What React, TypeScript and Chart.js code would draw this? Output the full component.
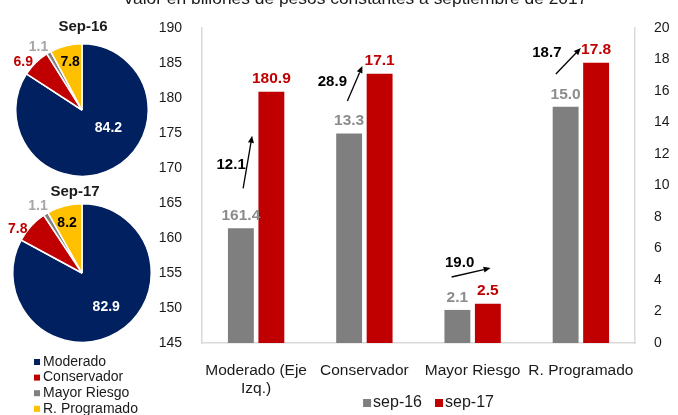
import React, { useEffect, useRef } from 'react';
import { Chart, registerables } from 'chart.js';
Chart.register(...registerables);

const FONT = "'Liberation Sans', Arial, sans-serif";

// ---------- data ----------
const titleText = 'Valor en billones de pesos constantes a septiembre de 2017';
const categories: (string | string[])[] = [['Moderado (Eje', 'Izq.)'], 'Conservador', 'Mayor Riesgo', 'R. Programado'];
const seriesNames = ['sep-16', 'sep-17'];
const sep16Values = [161.4, 13.3, 2.1, 15.0];
const sep17Values = [180.9, 17.1, 2.5, 17.8];
const valueAxis = ['yLeft', 'yRight', 'yRight', 'yRight'];
const growthValues = [12.1, 28.9, 19.0, 18.7];
const leftAxisRange = [145, 190, 5];
const rightAxisRange = [0, 20, 2];

const pieCategories = ['Moderado', 'Conservador', 'Mayor Riesgo', 'R. Programado'];
const pieTitles = ['Sep-16', 'Sep-17'];
const pieSep16 = [84.2, 6.9, 1.1, 7.8];
const pieSep17 = [82.9, 7.8, 1.1, 8.2];

// ---------- styles / placement ----------
const seriesColors = ['#7f7f7f', '#c00000'];
const seriesLabelColors = ['#8c8c8c', '#c00000'];
const pieColors = ['#002060', '#c00000', '#808080', '#ffc000'];
const pieLabelColors = ['#ffffff', '#c00000', '#a6a6a6', '#000000'];
const tickColor = '#1a1a1a';
const axisLineColor = '#d9d9d9';

const growthArrowPlacement = [
  { x0: -13, v0: 167.1, x1: -4, v1: 174.6, lx: -25, lv: 170.4 },
  { x0: -17, v0: 15.37, x1: -2, v1: 17.59, lx: -32, lv: 16.57 },
  { x0: -21, v0: 4.19, x1: 18, v1: 4.76, lx: -13, lv: 5.08 },
  { x0: -25, v0: 17.08, x1: 0, v1: 18.73, lx: -34, lv: 18.41 },
];

const pieLabelPlacement = [
  [{ a: 33.7, d: 0.48 }, { a: 219, d: 1.14 }, { a: 235.5, d: 1.16 }, { a: 256, d: 0.74 }],
  [{ a: 55, d: 0.61 }, { a: 214, d: 1.12 }, { a: 236.8, d: 1.16 }, { a: 253.3, d: 0.75 }],
];
const pieTitleOffset = [{ dx: 1, dy: 17 }, { dx: -7, dy: 12 }];

function pick(vals: number[], axis: string) {
  return vals.map((v, i) => (valueAxis[i] === axis ? v : null));
}

function drawArrow(ctx: CanvasRenderingContext2D, x0: number, y0: number, x1: number, y1: number) {
  const ang = Math.atan2(y1 - y0, x1 - x0);
  const head = 7;
  const hw = 3;
  const bx = x1 - head * Math.cos(ang);
  const by = y1 - head * Math.sin(ang);
  ctx.save();
  ctx.strokeStyle = '#000';
  ctx.fillStyle = '#000';
  ctx.lineWidth = 1.3;
  ctx.beginPath();
  ctx.moveTo(x0, y0);
  ctx.lineTo(bx, by);
  ctx.stroke();
  ctx.beginPath();
  ctx.moveTo(x1, y1);
  ctx.lineTo(bx + hw * Math.sin(ang), by - hw * Math.cos(ang));
  ctx.lineTo(bx - hw * Math.sin(ang), by + hw * Math.cos(ang));
  ctx.closePath();
  ctx.fill();
  ctx.restore();
}

const barPlugin = {
  id: 'barExtras',
  afterDatasetsDraw(chart: any) {
    const ctx: CanvasRenderingContext2D = chart.ctx;
    ctx.save();
    chart.data.datasets.forEach((ds: any, di: number) => {
      const meta = chart.getDatasetMeta(di);
      ds.data.forEach((v: number | null, i: number) => {
        if (v === null) return;
        const el = meta.data[i];
        ctx.font = `bold 15.5px ${FONT}`;
        ctx.fillStyle = seriesLabelColors[ds.seriesIndex];
        ctx.textAlign = 'center';
        ctx.textBaseline = 'middle';
        ctx.fillText(v.toFixed(1), el.x, el.y - 12.5);
      });
    });
    const xs = chart.scales.x;
    growthValues.forEach((g, i) => {
      const p = growthArrowPlacement[i];
      const ys = chart.scales[valueAxis[i]];
      const cx = xs.getPixelForValue(i);
      drawArrow(ctx, cx + p.x0, ys.getPixelForValue(p.v0), cx + p.x1, ys.getPixelForValue(p.v1));
      ctx.font = `bold 15px ${FONT}`;
      ctx.fillStyle = '#000';
      ctx.textAlign = 'center';
      ctx.textBaseline = 'middle';
      ctx.fillText(g.toFixed(1), cx + p.lx, ys.getPixelForValue(p.lv));
    });
    ctx.restore();
  },
  afterDraw(chart: any) {
    const ctx: CanvasRenderingContext2D = chart.ctx;
    const ca = chart.chartArea;
    ctx.save();
    ctx.font = `17.4px ${FONT}`;
    ctx.fillStyle = '#1a1a1a';
    ctx.textAlign = 'center';
    ctx.textBaseline = 'alphabetic';
    ctx.fillText(titleText, 355, 3.5);
    ctx.font = `16px ${FONT}`;
    const box = 8, gap = 2, itemGap = 13;
    const widths = seriesNames.map((n) => box + gap + ctx.measureText(n).width);
    const total = widths.reduce((a, b) => a + b, 0) + itemGap * (seriesNames.length - 1);
    let x = (ca.left + ca.right) / 2 + 10 - total / 2;
    const y = 403;
    seriesNames.forEach((n, i) => {
      ctx.fillStyle = seriesColors[i];
      ctx.fillRect(x, y - box / 2, box, box);
      ctx.fillStyle = tickColor;
      ctx.textAlign = 'left';
      ctx.textBaseline = 'middle';
      ctx.fillText(n, x + box + gap, y);
      x += widths[i] + itemGap;
    });
    ctx.restore();
  },
};

function makePiePlugin(idx: number, withLegend: boolean) {
  return {
    id: 'pieExtras' + idx,
    afterDatasetsDraw(chart: any) {
      const ctx: CanvasRenderingContext2D = chart.ctx;
      const meta = chart.getDatasetMeta(0);
      const data = chart.data.datasets[0].data as number[];
      ctx.save();
      meta.data.forEach((el: any, i: number) => {
        const pl = pieLabelPlacement[idx][i];
        const a = (pl.a * Math.PI) / 180;
        const r = el.outerRadius * pl.d;
        ctx.font = `bold 14px ${FONT}`;
        ctx.fillStyle = pieLabelColors[i];
        ctx.textAlign = 'center';
        ctx.textBaseline = 'middle';
        ctx.fillText(data[i].toFixed(1), el.x + r * Math.cos(a), el.y + r * Math.sin(a));
      });
      const el0 = meta.data[0];
      const off = pieTitleOffset[idx];
      ctx.font = `bold 15px ${FONT}`;
      ctx.fillStyle = '#1a1a1a';
      ctx.textAlign = 'center';
      ctx.textBaseline = 'middle';
      ctx.fillText(pieTitles[idx], el0.x + off.dx, el0.y - el0.outerRadius - off.dy);
      if (withLegend) {
        ctx.font = `14px ${FONT}`;
        pieCategories.forEach((c, i) => {
          const y = 182 + i * 15.6;
          ctx.fillStyle = pieColors[i];
          ctx.fillRect(34, y - 3, 6, 6);
          ctx.fillStyle = tickColor;
          ctx.textAlign = 'left';
          ctx.fillText(c, 43, y);
        });
      }
      ctx.restore();
    },
  };
}

export default function App() {
  const barRef = useRef<HTMLCanvasElement>(null);
  const pieARef = useRef<HTMLCanvasElement>(null);
  const pieBRef = useRef<HTMLCanvasElement>(null);

  useEffect(() => {
    const barCommon = { categoryPercentage: 0.563, barPercentage: 0.85, skipNull: true };
    const bar = new Chart(barRef.current!, {
      type: 'bar',
      data: {
        labels: categories as any,
        datasets: [
          { label: seriesNames[0], data: pick(sep16Values, 'yLeft'), yAxisID: 'yLeft', backgroundColor: seriesColors[0], seriesIndex: 0, ...barCommon } as any,
          { label: seriesNames[0], data: pick(sep16Values, 'yRight'), yAxisID: 'yRight', backgroundColor: seriesColors[0], seriesIndex: 0, ...barCommon } as any,
          { label: seriesNames[1], data: pick(sep17Values, 'yLeft'), yAxisID: 'yLeft', backgroundColor: seriesColors[1], seriesIndex: 1, ...barCommon } as any,
          { label: seriesNames[1], data: pick(sep17Values, 'yRight'), yAxisID: 'yRight', backgroundColor: seriesColors[1], seriesIndex: 1, ...barCommon } as any,
        ],
      },
      options: {
        responsive: false,
        animation: false,
        layout: { padding: { left: 150, top: 28, right: 0, bottom: 0 } },
        plugins: { legend: { display: false }, tooltip: { enabled: false }, title: { display: false } },
        scales: {
          x: {
            grid: { display: false },
            border: { color: axisLineColor, width: 1.5 },
            ticks: { color: tickColor, font: { family: FONT, size: 15.5 }, padding: 10, maxRotation: 0, autoSkip: false },
            afterFit: (s: any) => { s.height = 72; },
          },
          yLeft: {
            position: 'left',
            min: leftAxisRange[0],
            max: leftAxisRange[1],
            grid: { display: false },
            border: { color: axisLineColor, width: 1.5 },
            ticks: { stepSize: leftAxisRange[2], color: tickColor, font: { family: FONT, size: 14 }, padding: 12 },
            afterFit: (s: any) => { s.width = 52; },
          },
          yRight: {
            position: 'right',
            min: rightAxisRange[0],
            max: rightAxisRange[1],
            grid: { display: false },
            border: { color: axisLineColor, width: 1.5 },
            ticks: { stepSize: rightAxisRange[2], color: tickColor, font: { family: FONT, size: 14 }, padding: 11 },
            afterFit: (s: any) => { s.width = 43; },
          },
        },
      } as any,
      plugins: [barPlugin],
    });

    const pieOpts = (padding: any) => ({
      responsive: false,
      animation: false,
      layout: { padding },
      plugins: { legend: { display: false }, tooltip: { enabled: false } },
    });

    const pieA = new Chart(pieARef.current!, {
      type: 'pie',
      data: {
        labels: pieCategories,
        datasets: [{ data: pieSep16, backgroundColor: pieColors, borderColor: '#ffffff', borderWidth: 1.5 }],
      },
      options: pieOpts({ left: 15, right: 16, top: 43, bottom: 3 }) as any,
      plugins: [makePiePlugin(0, false)],
    });

    const pieB = new Chart(pieBRef.current!, {
      type: 'pie',
      data: {
        labels: pieCategories,
        datasets: [{ data: pieSep17, backgroundColor: pieColors, borderColor: '#ffffff', borderWidth: 1.5 }],
      },
      options: pieOpts({ left: 12, right: 13, top: 23, bottom: 72 }) as any,
      plugins: [makePiePlugin(1, true)],
    });

    return () => {
      bar.destroy();
      pieA.destroy();
      pieB.destroy();
    };
  }, []);

  return (
    <div style={{ position: 'absolute', left: 0, top: 0, width: 678, height: 415, overflow: 'hidden', background: '#ffffff' }}>
      <canvas ref={barRef} width={678} height={415} style={{ position: 'absolute', left: 0, top: 0, width: 678, height: 415 }} />
      <canvas ref={pieARef} width={165} height={180} style={{ position: 'absolute', left: 0, top: 0, width: 165, height: 180 }} />
      <canvas ref={pieBRef} width={165} height={235} style={{ position: 'absolute', left: 0, top: 180, width: 165, height: 235 }} />
    </div>
  );
}
